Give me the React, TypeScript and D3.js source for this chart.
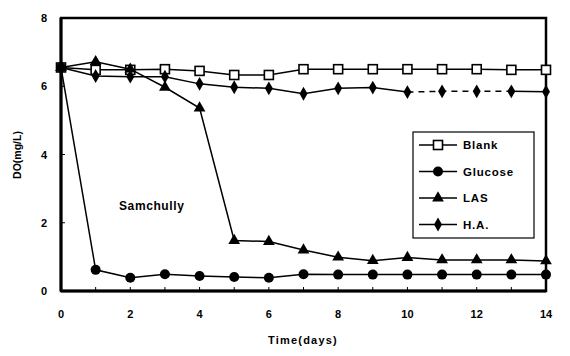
import React from 'react';
import * as d3 from 'd3';

const days = [0, 1, 2, 3, 4, 5, 6, 7, 8, 9, 10, 11, 12, 13, 14];
const blank = [6.55, 6.48, 6.48, 6.5, 6.45, 6.33, 6.33, 6.5, 6.5, 6.5, 6.5, 6.5, 6.5, 6.48, 6.48];
const glucose = [6.55, 0.62, 0.39, 0.49, 0.44, 0.41, 0.39, 0.49, 0.48, 0.48, 0.48, 0.48, 0.48, 0.48, 0.48];
const las = [6.55, 6.72, 6.5, 5.97, 5.36, 1.48, 1.45, 1.2, 0.99, 0.89, 0.98, 0.91, 0.91, 0.91, 0.88];
const ha = [6.55, 6.3, 6.28, 6.28, 6.07, 5.97, 5.94, 5.78, 5.94, 5.96, 5.83, 5.85, 5.85, 5.85, 5.84];
const xTicks = [0, 2, 4, 6, 8, 10, 12, 14];
const yTicks = [0, 2, 4, 6, 8];

const seriesList = [
  { name: 'Blank', values: blank, marker: 'square', dash: null as null | [number, number] },
  { name: 'Glucose', values: glucose, marker: 'circle', dash: null as null | [number, number] },
  { name: 'LAS', values: las, marker: 'triangle', dash: null as null | [number, number] },
  // the scan shows the H.A. line broken (dashed) between day 10 and day 13
  { name: 'H.A.', values: ha, marker: 'diamond', dash: [10, 13] as null | [number, number] },
];

const font = '"Liberation Sans", Arial, sans-serif';

const Marker: React.FC<{ type: string; x: number; y: number }> = ({ type, x, y }) => {
  if (type === 'square') {
    return <rect x={x - 4.5} y={y - 4.5} width={9} height={9} fill="#fff" stroke="#000" strokeWidth={1.6} />;
  }
  if (type === 'circle') {
    return <circle cx={x} cy={y} r={5} fill="#000" />;
  }
  const sym = d3.symbol().type(type === 'triangle' ? d3.symbolTriangle : d3.symbolDiamond).size(type === 'triangle' ? 60 : 55);
  return <path d={sym() ?? ''} transform={`translate(${x},${y})`} fill="#000" />;
};

export default function App() {
  const width = 570;
  const height = 356;
  const x = d3.scaleLinear().domain([0, 14]).range([61, 546]);
  const y = d3.scaleLinear().domain([0, 8]).range([291, 18]);
  const line = d3.line<[number, number]>().x((d) => x(d[0])).y((d) => y(d[1]));

  const legendX = 413;
  const legendY = 132;
  const legendW = 121;
  const legendH = 106;

  return (
    <svg width={width} height={height} style={{ position: 'absolute', left: 0, top: 0, background: '#fff' }}>
      {/* frame */}
      <rect x={x(0)} y={y(8)} width={x(14) - x(0)} height={y(0) - y(8)} fill="none" stroke="#000" strokeWidth={2.5} />
      <line x1={x(0)} x2={x(0)} y1={y(8)} y2={y(0)} stroke="#000" strokeWidth={3} />
      <line x1={x(0)} x2={x(14)} y1={y(0)} y2={y(0)} stroke="#000" strokeWidth={3} />

      {/* ticks */}
      {days.map((d) => (
        <line key={'xt' + d} x1={x(d)} x2={x(d)} y1={y(0)} y2={y(0) - 4} stroke="#000" strokeWidth={1} />
      ))}
      {yTicks.map((t) => (
        <line key={'yt' + t} x1={x(0)} x2={x(0) + 4} y1={y(t)} y2={y(t)} stroke="#000" strokeWidth={1} />
      ))}

      {/* tick labels */}
      {xTicks.map((t) => (
        <text key={'xl' + t} x={x(t)} y={318} textAnchor="middle" fontFamily={font} fontWeight="bold" fontSize={11}>{t}</text>
      ))}
      {yTicks.map((t) => (
        <text key={'yl' + t} x={47} y={y(t) + 4} textAnchor="end" fontFamily={font} fontWeight="bold" fontSize={11}>{t}</text>
      ))}

      {/* axis titles */}
      <text x={303} y={344} textAnchor="middle" fontFamily={font} fontWeight="bold" fontSize={11} letterSpacing={1.2}>Time(days)</text>
      <text transform={`translate(21,${155}) rotate(-90)`} textAnchor="middle" fontFamily={font} fontWeight="bold" fontSize={10.5}>DO(mg/L)</text>

      {/* annotation */}
      <text x={119} y={210} fontFamily={font} fontWeight="bold" fontSize={12} letterSpacing={0.6}>Samchully</text>

      {/* series */}
      {seriesList.map((s) => {
        const pts: [number, number][] = s.values.map((v, i) => [days[i], v]);
        const [a, b] = s.dash ?? [14, 14];
        const before = pts.filter((p) => p[0] <= a);
        const middle = pts.filter((p) => p[0] >= a && p[0] <= b);
        const after = pts.filter((p) => p[0] >= b);
        return (
          <g key={s.name}>
            <path d={line(before) ?? ''} fill="none" stroke="#000" strokeWidth={1.5} />
            {s.dash && <path d={line(middle) ?? ''} fill="none" stroke="#000" strokeWidth={1.5} strokeDasharray="6 5" />}
            {s.dash && <path d={line(after) ?? ''} fill="none" stroke="#000" strokeWidth={1.5} />}
            {s.values.map((v, i) => (
              <Marker key={i} type={s.marker} x={x(days[i])} y={y(v)} />
            ))}
          </g>
        );
      })}

      {/* legend */}
      <rect x={legendX} y={legendY} width={legendW} height={legendH} fill="#fff" stroke="#000" strokeWidth={1.2} />
      {seriesList.map((s, i) => {
        const ly = legendY + 13 + i * 26.5;
        return (
          <g key={'lg' + s.name}>
            <line x1={legendX + 6} x2={legendX + 44} y1={ly} y2={ly} stroke="#000" strokeWidth={1.5} />
            <Marker type={s.marker} x={legendX + 25} y={ly} />
            <text x={legendX + 50} y={ly + 4} fontFamily={font} fontWeight="bold" fontSize={11.5} letterSpacing={0.8}>{s.name}</text>
          </g>
        );
      })}
    </svg>
  );
}
